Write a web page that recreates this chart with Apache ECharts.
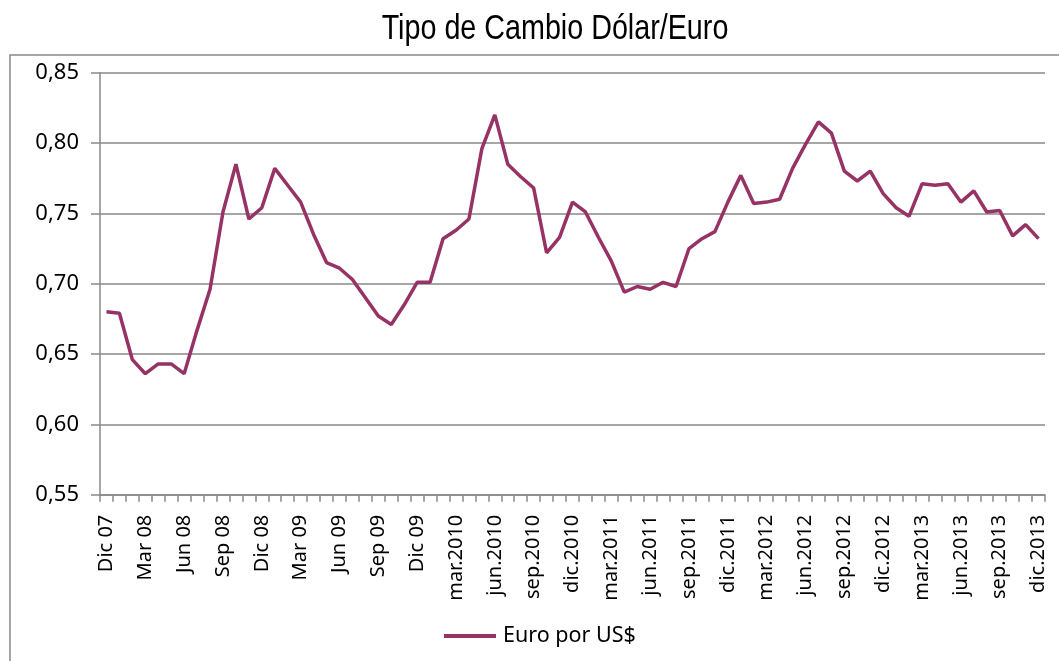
<!DOCTYPE html>
<html>
<head>
<meta charset="utf-8">
<script src="https://cdn.jsdelivr.net/npm/echarts@6/dist/echarts.min.js"></script>
<style>html,body{margin:0;padding:0;background:#fff;}#c{width:1059px;height:661px;}</style>
</head>
<body>
<div id="c"></div>
<script>
var categories = [
  'Dic 07',
  'Ene 08','Feb 08','Mar 08','Abr 08','May 08','Jun 08','Jul 08','Ago 08','Sep 08','Oct 08','Nov 08','Dic 08',
  'Ene 09','Feb 09','Mar 09','Abr 09','May 09','Jun 09','Jul 09','Ago 09','Sep 09','Oct 09','Nov 09','Dic 09',
  'ene.2010','feb.2010','mar.2010','abr.2010','may.2010','jun.2010','jul.2010','ago.2010','sep.2010','oct.2010','nov.2010','dic.2010',
  'ene.2011','feb.2011','mar.2011','abr.2011','may.2011','jun.2011','jul.2011','ago.2011','sep.2011','oct.2011','nov.2011','dic.2011',
  'ene.2012','feb.2012','mar.2012','abr.2012','may.2012','jun.2012','jul.2012','ago.2012','sep.2012','oct.2012','nov.2012','dic.2012',
  'ene.2013','feb.2013','mar.2013','abr.2013','may.2013','jun.2013','jul.2013','ago.2013','sep.2013','oct.2013','nov.2013','dic.2013'
];
var euroPorUSD = [
  0.680,
  0.679,0.646,0.636,0.643,0.643,0.636,0.667,0.696,0.751,0.785,0.746,0.754,
  0.782,0.770,0.758,0.735,0.715,0.711,0.703,0.690,0.677,0.671,0.685,0.701,
  0.701,0.732,0.738,0.746,0.796,0.820,0.785,0.776,0.768,0.722,0.733,0.758,
  0.751,0.733,0.716,0.694,0.698,0.696,0.701,0.698,0.725,0.732,0.737,0.758,
  0.777,0.757,0.758,0.760,0.782,0.799,0.815,0.807,0.780,0.773,0.780,0.764,
  0.754,0.748,0.771,0.770,0.771,0.758,0.766,0.751,0.752,0.734,0.742,0.732
];
var seriesName = 'Euro por US$';
var chartTitle = 'Tipo de Cambio Dólar/Euro';
var yMin = 0.55, yMax = 0.85, yStep = 0.05;

var chart = echarts.init(document.getElementById('c'), null, {renderer: 'canvas'});
var gray = '#898989';
chart.setOption({
  animation: false,
  backgroundColor: '#fff',
  graphic: [
    {type: 'rect', shape: {x: 10, y: 55, width: 1100, height: 700},
     style: {fill: 'none', stroke: gray, lineWidth: 1.5}, z: 0},
    {type: 'text', x: 555, y: 29, scaleX: 0.82,
     style: {text: chartTitle, font: '35px "Liberation Sans", Arial', fill: '#000',
             textAlign: 'center', textVerticalAlign: 'middle'}}
  ],
  grid: {left: 100, right: 14, top: 72.7, bottom: 166.3, containLabel: false},
  legend: {
    data: [seriesName], left: 444, top: 625, padding: 0, icon: 'rect', itemWidth: 52, itemHeight: 4, itemGap: 10,
    textStyle: {fontFamily: 'Noto Sans', fontSize: 21.5, color: '#000', padding: [0, 0, 0, 2]}
  },
  xAxis: {
    type: 'category', data: categories, boundaryGap: true,
    axisLine: {lineStyle: {color: gray, width: 1.5}},
    axisTick: {show: true, interval: 0, length: 7, lineStyle: {color: gray, width: 1.5}},
    axisLabel: {interval: 2, rotate: 90, margin: 20, color: '#000', fontFamily: 'Noto Sans', fontSize: 20},
    splitLine: {show: false}
  },
  yAxis: {
    type: 'value', min: yMin, max: yMax, interval: yStep,
    axisLine: {show: true, lineStyle: {color: gray, width: 1.5}},
    axisTick: {show: true, length: 9, lineStyle: {color: gray, width: 1.5}},
    axisLabel: {margin: 21, color: '#000', fontFamily: 'Noto Sans', fontSize: 22,
      formatter: function (v) { return v.toFixed(2).replace('.', ','); }},
    splitLine: {show: true, lineStyle: {color: gray, width: 1.5}}
  },
  series: [{
    name: seriesName, type: 'line', data: euroPorUSD, symbol: 'none', smooth: false,
    lineStyle: {color: '#963264', width: 3.5}, itemStyle: {color: '#963264'}
  }]
});
</script>
</body>
</html>
